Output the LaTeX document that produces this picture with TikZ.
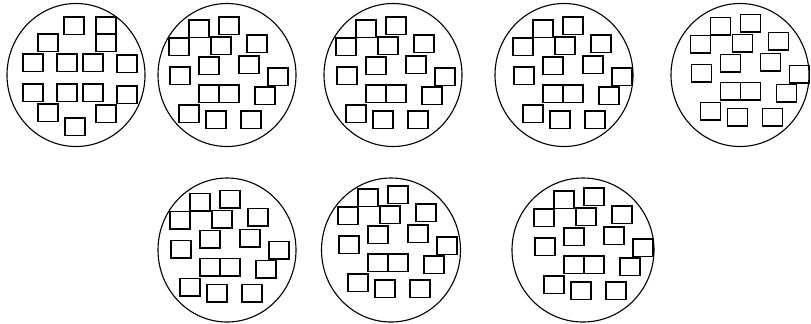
\documentclass[tikz,border=0pt]{standalone}
\usetikzlibrary{positioning}
\tikzset{
  every picture/.style={x=0.03cm, y=-0.03cm},
  dish/.style={draw=black, line width=0.95pt},
  grain/.style={draw=black, line width=1.4pt},
}
% top-left corners of the squares in the first dish
\def\gridgrains{64/17, 96/17, 38/34, 96/34, 23/54, 57/54, 83/54, 117/55,
  23/84, 57/84, 83/84, 117/86, 38/104, 96/105, 65/118}
% the scattered layout shared by the other dishes, relative to its reference point
\def\loosegrains{-38/-55, -8/-58, -58/-37, -16/-38, 20/-40, -28/-18, 12/-19,
  -57/-8, 41/-7, -28/10, -8/10, 28/12, -48/30, -21/36, 14/36}

\begin{document}
\begin{tikzpicture}
  \useasboundingbox (0,0) rectangle (811,323);
  % first dish, squares on a grid
  \coordinate (d1) at (76,75);
  \draw[dish] (d1) ellipse [x radius=69, y radius=71.5];
  \foreach \gx/\gy in \gridgrains
    \draw[grain] (\gx,\gy) rectangle ++(20,17.5);
  % the seven other dishes: centre, radii, reference of the square layout
  \foreach \n/\cx/\cy/\rx/\ry/\px/\py in {2/227/75/69/71.5/227/75, 3/393/75/69/71.5/394/75,
      4/564/75/69/71.5/571/75, 5/740/75/69/71.5/748.5/72.5, 6/227/250/69/72/228/248.5,
      7/391/250/69.5/72/396/244, 8/583/250/71/72/592/246} {
    \coordinate (d\n) at (\cx,\cy);
    \draw[dish] (d\n) ellipse [x radius=\rx, y radius=\ry];
    \begin{scope}[shift={(\px,\py)}]
      \foreach \gx/\gy in \loosegrains
        \draw[grain] (\gx,\gy) rectangle ++(20,17.5);
    \end{scope}
  }
\end{tikzpicture}
\end{document}
